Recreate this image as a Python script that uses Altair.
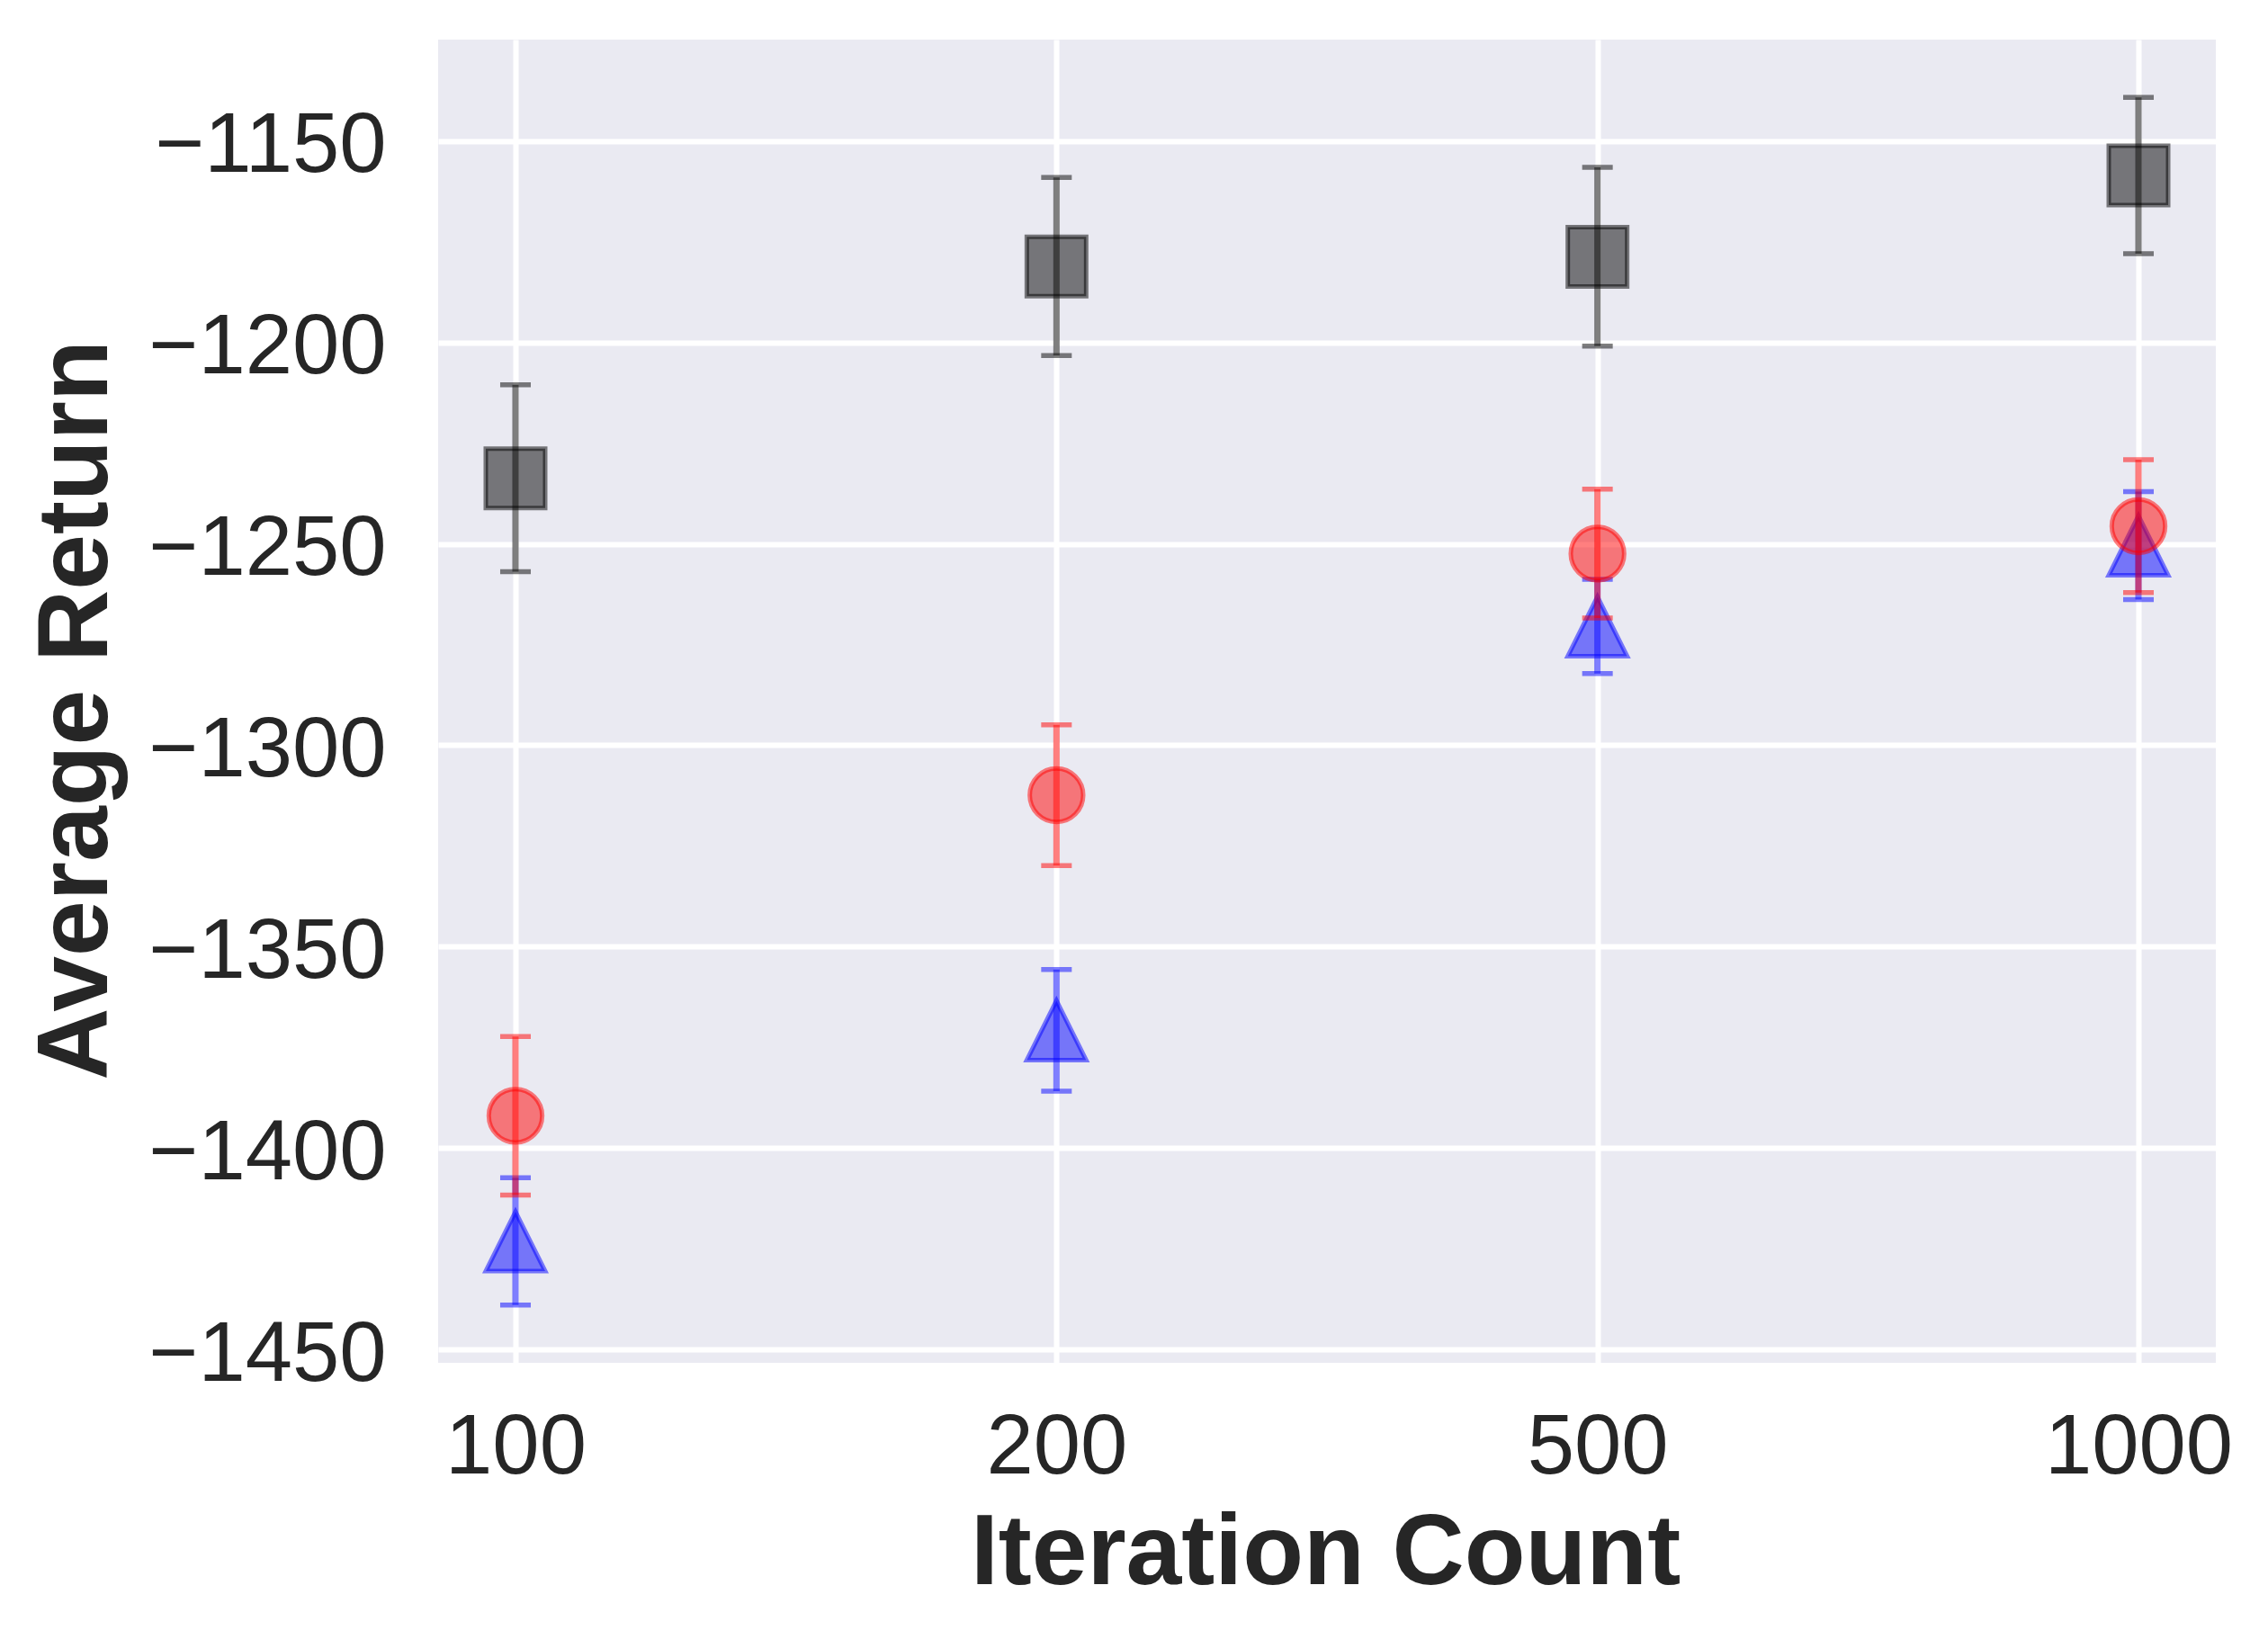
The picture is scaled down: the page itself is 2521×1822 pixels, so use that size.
import json
import altair as alt
import pandas as pd

# ---- data ----
iterations = ["100", "200", "500", "1000"]
gray_mean = [-1233.7, -1181.1, -1178.7, -1158.5]
gray_err = [23.2, 22.1, 22.2, 19.4]
red_mean = [-1392.0, -1312.4, -1252.4, -1245.6]
red_err = [19.7, 17.5, 16.0, 16.5]
blue_mean = [-1423.2, -1370.8, -1270.5, -1250.4]
blue_err = [15.8, 15.1, 11.7, 13.4]
y_ticks = [-1450, -1400, -1350, -1300, -1250, -1200, -1150]


def frame(mean, err):
    return pd.DataFrame({
        "idx": list(range(len(iterations))),
        "iteration": iterations,
        "mean": mean,
        "lo": [m - e for m, e in zip(mean, err)],
        "hi": [m + e for m, e in zip(mean, err)],
    })


FONT = "Liberation Sans"
TEXT = "#262626"
W, H = 1976, 1471

x_scale = alt.Scale(domain=[-0.143, 3.143], nice=False, zero=False)
y_scale = alt.Scale(domain=[-1453.35, -1124.76], nice=False, zero=False)

x_axis = alt.Axis(
    values=[0, 1, 2, 3],
    labelExpr=json.dumps(iterations) + "[datum.value]",
    labelFont=FONT, labelFontSize=94, labelColor=TEXT, labelPadding=48,
    labelLimit=1000, labelOverlap=False,
    ticks=False, tickSize=0, domain=False,
    grid=True, gridColor="white", gridWidth=6,
    title="Iteration Count", titleFont=FONT, titleFontSize=111,
    titleFontWeight="bold", titleColor=TEXT, titleLimit=3000,
    titleX=986, titleY=245, titleBaseline="alphabetic", titleAlign="center",
)
y_axis = alt.Axis(
    values=y_ticks,
    labelExpr="replace(format(datum.value, 'd'), '-', '\u2212')",
    labelFont=FONT, labelFontSize=94, labelColor=TEXT, labelPadding=58,
    labelBaseline="alphabetic", labelOffset=34,
    labelLimit=1000, labelOverlap=False,
    ticks=False, tickSize=0, domain=False,
    grid=True, gridColor="white", gridWidth=6,
    title="Average Return", titleFont=FONT, titleFontSize=111,
    titleFontWeight="bold", titleColor=TEXT, titleAngle=270, titleLimit=3000,
    titleX=-369, titleY=745, titleBaseline="alphabetic", titleAlign="center",
)

X = alt.X("idx:Q", scale=x_scale, axis=x_axis)
X2 = alt.X2("idx:Q")


def Y(field):
    return alt.Y(f"{field}:Q", scale=y_scale, axis=y_axis)


def series(df, color, shape, size):
    base = alt.Chart(df)
    bar = base.mark_rule(color=color, opacity=0.5, strokeWidth=7).encode(
        x=X, y=Y("lo"), y2=alt.Y2("hi:Q"))
    cap_lo = base.mark_rule(color=color, opacity=0.5, strokeWidth=5.5,
                            xOffset=-17, x2Offset=17).encode(x=X, x2=X2, y=Y("lo"))
    cap_hi = base.mark_rule(color=color, opacity=0.5, strokeWidth=5.5,
                            xOffset=-17, x2Offset=17).encode(x=X, x2=X2, y=Y("hi"))
    pt = base.mark_point(shape=shape, size=size, filled=True, opacity=1,
                         fill=color, fillOpacity=0.5, stroke=color,
                         strokeOpacity=0.5, strokeWidth=5).encode(x=X, y=Y("mean"))
    return [bar, cap_lo, cap_hi, pt]


layers = []
layers += series(frame(gray_mean, gray_err), "#000000", "square", 4356)
layers += series(frame(blue_mean, blue_err), "#0000ff", "M0,-1L1,1L-1,1Z", 4356)
layers += series(frame(red_mean, red_err), "#ff0000", "circle", 3526)

chart = alt.layer(*layers).properties(
    width=W, height=H,
    autosize=alt.AutoSizeParams(type="none"),
    padding={"left": 479, "top": 36, "right": 50, "bottom": 290},
    background="white",
).configure_view(fill="#EAEAF2", strokeWidth=0)

chart.save("out.html", embed_options={"renderer": "svg", "actions": False})
